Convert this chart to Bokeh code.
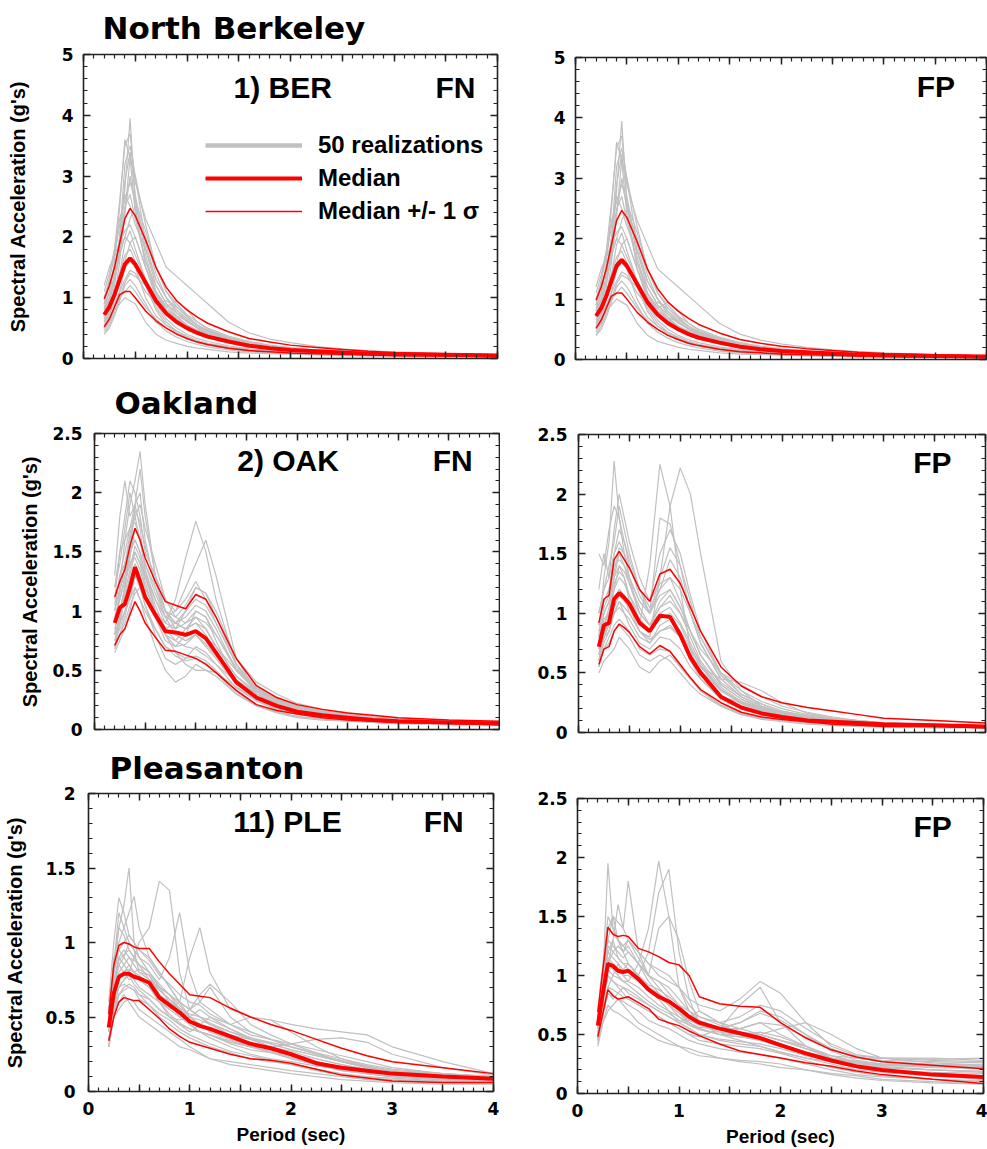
from bokeh.plotting import figure
from bokeh.models import Range1d, LinearAxis, SingleIntervalTicker, Label, Legend, LegendItem
from bokeh.layouts import column, row
from bokeh.embed import file_html
from bokeh.resources import INLINE

# ---------------- data ----------------
PERIOD = [0.2, 0.25, 0.3, 0.35, 0.4, 0.45, 0.5, 0.6, 0.7, 0.8, 0.9, 1.0,
          1.1, 1.2, 1.4, 1.6, 1.8, 2.0, 2.25, 2.5, 2.75, 3.0, 3.5, 4.0]

# 1) BER (North Berkeley) -- FN and FP panels are identical in the source
BER_MEDIAN = [0.72, 0.85, 1.05, 1.3, 1.55, 1.65, 1.55, 1.25, 0.95, 0.74, 0.6, 0.5,
              0.42, 0.36, 0.28, 0.21, 0.17, 0.14, 0.12, 0.1, 0.08, 0.07, 0.06, 0.05]
BER_PLUS = [0.98, 1.2, 1.5, 1.9, 2.3, 2.47, 2.35, 1.95, 1.5, 1.17, 0.95, 0.8,
            0.68, 0.58, 0.44, 0.33, 0.27, 0.22, 0.18, 0.15, 0.12, 0.1, 0.08, 0.06]
BER_MINUS = [0.52, 0.65, 0.85, 1.05, 1.1, 1.1, 1.0, 0.78, 0.62, 0.5, 0.4, 0.33,
             0.27, 0.23, 0.17, 0.13, 0.11, 0.09, 0.08, 0.07, 0.06, 0.05, 0.04, 0.03]
BER_REALIZATIONS = [
    [0.6, 0.8, 1.2, 1.8, 2.8, 3.95, 2.6, 1.7, 1.1, 0.8, 0.65, 0.5, 0.42, 0.35, 0.27, 0.2, 0.16, 0.13, 0.11, 0.09, 0.08, 0.07, 0.06, 0.05],
    [0.8, 1.1, 1.6, 2.5, 3.6, 3.3, 2.4, 1.6, 1.2, 0.9, 0.7, 0.55, 0.45, 0.38, 0.28, 0.22, 0.17, 0.14, 0.12, 0.1, 0.09, 0.07, 0.06, 0.05],
    [0.9, 1.3, 1.8, 2.6, 3.5, 3.7, 2.9, 2.3, 1.9, 1.5, 1.35, 1.2, 1.05, 0.9, 0.6, 0.42, 0.32, 0.26, 0.2, 0.16, 0.13, 0.11, 0.08, 0.06],
    [0.5, 0.7, 1.0, 1.6, 2.4, 3.0, 2.5, 1.5, 1.0, 0.75, 0.6, 0.48, 0.4, 0.34, 0.26, 0.2, 0.16, 0.13, 0.11, 0.09, 0.08, 0.07, 0.05, 0.04],
    [1.2, 1.5, 1.7, 1.9, 2.1, 2.2, 2.0, 1.5, 1.1, 0.85, 0.68, 0.55, 0.46, 0.39, 0.3, 0.23, 0.18, 0.15, 0.12, 0.1, 0.09, 0.07, 0.06, 0.05],
    [0.4, 0.5, 0.7, 0.95, 1.2, 1.3, 1.2, 0.9, 0.6, 0.45, 0.35, 0.28, 0.23, 0.19, 0.14, 0.11, 0.09, 0.08, 0.07, 0.06, 0.05, 0.04, 0.04, 0.03],
    [0.6, 0.75, 0.9, 1.1, 1.3, 1.45, 1.4, 1.1, 0.9, 0.95, 0.85, 0.7, 0.55, 0.45, 0.33, 0.25, 0.2, 0.16, 0.13, 0.11, 0.09, 0.08, 0.06, 0.05],
    [1.0, 1.3, 1.7, 2.2, 2.7, 2.5, 2.2, 1.8, 1.3, 1.0, 0.75, 0.6, 0.5, 0.42, 0.32, 0.25, 0.19, 0.15, 0.12, 0.1, 0.09, 0.08, 0.06, 0.05],
    [0.7, 0.9, 1.1, 1.4, 1.7, 1.8, 1.6, 1.2, 0.85, 0.6, 0.45, 0.35, 0.28, 0.23, 0.17, 0.13, 0.1, 0.09, 0.07, 0.06, 0.05, 0.05, 0.04, 0.03],
    [0.5, 0.6, 0.8, 0.9, 1.0, 0.95, 0.9, 0.6, 0.4, 0.3, 0.25, 0.2, 0.17, 0.15, 0.11, 0.09, 0.08, 0.07, 0.06, 0.05, 0.04, 0.04, 0.03, 0.03],
    [0.8, 1.0, 1.3, 1.7, 2.0, 2.3, 2.5, 2.0, 1.4, 1.0, 0.8, 0.65, 0.55, 0.46, 0.35, 0.27, 0.21, 0.17, 0.14, 0.11, 0.1, 0.08, 0.07, 0.05],
    [0.65, 0.9, 1.3, 2.0, 3.2, 3.5, 3.0, 1.9, 1.3, 1.0, 0.8, 0.62, 0.5, 0.42, 0.31, 0.24, 0.19, 0.15, 0.12, 0.1, 0.09, 0.07, 0.06, 0.05],
    [0.55, 0.75, 1.0, 1.4, 1.9, 2.1, 1.8, 1.3, 0.9, 0.65, 0.5, 0.4, 0.33, 0.28, 0.21, 0.16, 0.13, 0.11, 0.09, 0.08, 0.07, 0.06, 0.05, 0.04],
    [0.9, 1.2, 1.5, 2.0, 2.9, 3.4, 2.7, 1.8, 1.2, 0.9, 0.75, 0.62, 0.52, 0.44, 0.33, 0.25, 0.2, 0.16, 0.13, 0.11, 0.09, 0.08, 0.06, 0.05],
    [0.45, 0.6, 0.85, 1.1, 1.5, 1.6, 1.5, 1.0, 0.7, 0.55, 0.45, 0.37, 0.3, 0.25, 0.19, 0.15, 0.12, 0.1, 0.08, 0.07, 0.06, 0.05, 0.04, 0.04],
    [1.1, 1.4, 1.8, 2.3, 2.6, 2.9, 2.6, 2.1, 1.5, 1.1, 0.9, 0.72, 0.6, 0.5, 0.37, 0.28, 0.22, 0.18, 0.14, 0.12, 0.1, 0.08, 0.07, 0.05],
    [0.6, 0.8, 1.0, 1.3, 1.6, 1.9, 2.0, 1.5, 1.05, 0.8, 0.7, 0.62, 0.5, 0.4, 0.29, 0.22, 0.17, 0.14, 0.11, 0.09, 0.08, 0.07, 0.05, 0.04],
    [0.75, 1.0, 1.4, 1.9, 2.5, 2.7, 2.3, 1.6, 1.1, 0.85, 0.95, 0.8, 0.6, 0.48, 0.35, 0.26, 0.2, 0.16, 0.13, 0.1, 0.09, 0.07, 0.06, 0.05],
    [0.5, 0.65, 0.85, 1.0, 1.1, 1.2, 1.1, 0.85, 0.65, 0.5, 0.4, 0.32, 0.26, 0.22, 0.16, 0.12, 0.1, 0.08, 0.07, 0.06, 0.05, 0.04, 0.04, 0.03],
    [0.85, 1.1, 1.5, 1.8, 2.0, 1.9, 1.7, 1.3, 1.0, 0.8, 0.65, 0.55, 0.47, 0.4, 0.3, 0.23, 0.18, 0.15, 0.12, 0.1, 0.08, 0.07, 0.06, 0.05],
    [0.7, 0.95, 1.3, 1.7, 2.4, 3.3, 3.0, 2.2, 1.5, 1.1, 0.85, 0.68, 0.55, 0.45, 0.34, 0.26, 0.2, 0.16, 0.13, 0.11, 0.09, 0.08, 0.06, 0.05],
    [0.4, 0.55, 0.75, 1.0, 1.25, 1.4, 1.35, 1.2, 0.8, 0.55, 0.42, 0.34, 0.28, 0.24, 0.18, 0.14, 0.11, 0.09, 0.08, 0.07, 0.06, 0.05, 0.04, 0.03],
]

# 2) OAK (Oakland) FN
OAK_FN_MEDIAN = [0.9, 1.03, 1.06, 1.2, 1.37, 1.25, 1.12, 0.97, 0.83, 0.82, 0.8, 0.83,
                 0.77, 0.65, 0.4, 0.27, 0.2, 0.15, 0.12, 0.1, 0.08, 0.07, 0.06, 0.05]
OAK_FN_PLUS = [1.12, 1.25, 1.35, 1.55, 1.7, 1.6, 1.45, 1.25, 1.08, 1.05, 1.02, 1.14,
               1.1, 0.95, 0.6, 0.37, 0.27, 0.21, 0.17, 0.14, 0.12, 0.1, 0.08, 0.07]
OAK_FN_MINUS = [0.71, 0.8, 0.85, 0.97, 1.08, 1.0, 0.9, 0.78, 0.67, 0.66, 0.63, 0.6,
                0.55, 0.48, 0.33, 0.21, 0.16, 0.13, 0.1, 0.08, 0.07, 0.06, 0.05, 0.04]
OAK_FN_REALIZATIONS = [
    [0.8, 1.2, 1.6, 1.9, 2.1, 2.35, 1.9, 1.3, 1.0, 0.9, 0.85, 0.9, 0.8, 0.65, 0.4, 0.27, 0.19, 0.14, 0.11, 0.09, 0.08, 0.07, 0.06, 0.05],
    [1.3, 1.8, 2.1, 1.8, 1.9, 2.0, 1.6, 1.2, 0.95, 0.8, 0.75, 0.8, 0.7, 0.6, 0.38, 0.25, 0.18, 0.14, 0.11, 0.09, 0.08, 0.07, 0.06, 0.05],
    [0.7, 0.9, 1.1, 1.3, 1.5, 1.4, 1.3, 1.0, 0.9, 1.1, 1.45, 1.76, 1.5, 1.1, 0.55, 0.3, 0.2, 0.15, 0.12, 0.1, 0.08, 0.07, 0.06, 0.05],
    [0.9, 1.0, 1.2, 1.5, 1.6, 1.5, 1.3, 1.1, 0.95, 1.0, 1.2, 1.4, 1.6, 1.3, 0.6, 0.32, 0.22, 0.16, 0.13, 0.1, 0.08, 0.07, 0.06, 0.05],
    [0.65, 0.75, 0.85, 1.0, 1.2, 1.1, 0.95, 0.7, 0.5, 0.4, 0.45, 0.55, 0.5, 0.45, 0.3, 0.2, 0.14, 0.1, 0.08, 0.07, 0.06, 0.05, 0.05, 0.04],
    [1.0, 1.3, 1.4, 1.6, 1.8, 1.9, 1.7, 1.4, 1.1, 0.95, 0.9, 1.0, 0.95, 0.8, 0.5, 0.33, 0.24, 0.18, 0.14, 0.11, 0.09, 0.08, 0.06, 0.05],
    [0.75, 0.85, 1.0, 1.1, 1.2, 1.1, 1.0, 0.85, 0.7, 0.65, 0.6, 0.62, 0.58, 0.5, 0.32, 0.2, 0.15, 0.11, 0.09, 0.08, 0.06, 0.06, 0.05, 0.04],
    [1.2, 1.4, 1.7, 2.0, 1.8, 1.6, 1.4, 1.2, 1.0, 0.85, 1.0, 1.2, 1.15, 1.0, 0.6, 0.4, 0.3, 0.22, 0.17, 0.14, 0.11, 0.09, 0.07, 0.06],
    [0.9, 1.1, 1.3, 1.4, 1.5, 1.4, 1.2, 1.0, 0.85, 0.8, 0.75, 0.8, 0.72, 0.62, 0.42, 0.3, 0.23, 0.18, 0.15, 0.12, 0.1, 0.08, 0.06, 0.05],
    [0.7, 0.8, 0.9, 1.05, 1.15, 1.2, 1.05, 0.8, 0.6, 0.55, 0.6, 0.7, 0.65, 0.55, 0.35, 0.24, 0.17, 0.13, 0.1, 0.08, 0.07, 0.06, 0.05, 0.04],
    [1.1, 1.5, 1.8, 2.1, 2.0, 1.8, 1.5, 1.3, 1.1, 1.0, 1.1, 1.25, 1.1, 0.9, 0.55, 0.35, 0.26, 0.2, 0.15, 0.12, 0.1, 0.08, 0.07, 0.05],
    [0.8, 0.95, 1.1, 1.25, 1.4, 1.3, 1.15, 0.95, 0.8, 0.75, 0.85, 0.95, 0.85, 0.7, 0.45, 0.32, 0.26, 0.2, 0.16, 0.13, 0.1, 0.08, 0.07, 0.05],
    [0.85, 1.0, 1.2, 1.45, 1.7, 1.6, 1.4, 1.15, 0.95, 0.9, 0.95, 1.05, 1.0, 0.85, 0.5, 0.32, 0.24, 0.18, 0.14, 0.11, 0.09, 0.08, 0.06, 0.05],
    [1.0, 1.2, 1.3, 1.5, 1.6, 1.5, 1.3, 1.05, 0.85, 0.75, 0.7, 0.68, 0.62, 0.55, 0.4, 0.3, 0.22, 0.17, 0.13, 0.11, 0.09, 0.07, 0.06, 0.05],
    [0.7, 0.9, 1.2, 1.5, 1.9, 1.7, 1.35, 1.0, 0.8, 0.7, 0.8, 1.0, 0.95, 0.75, 0.4, 0.25, 0.18, 0.14, 0.11, 0.09, 0.08, 0.07, 0.05, 0.04],
    [1.2, 1.5, 1.6, 1.7, 1.9, 2.2, 1.8, 1.3, 1.0, 0.9, 0.85, 0.9, 0.85, 0.7, 0.45, 0.3, 0.22, 0.17, 0.13, 0.1, 0.09, 0.07, 0.06, 0.05],
    [0.8, 0.9, 1.0, 1.1, 1.3, 1.25, 1.1, 0.95, 0.85, 0.9, 1.0, 1.1, 1.05, 0.9, 0.55, 0.35, 0.25, 0.19, 0.15, 0.12, 0.1, 0.08, 0.06, 0.05],
    [0.95, 1.1, 1.25, 1.4, 1.45, 1.35, 1.2, 1.0, 0.8, 0.65, 0.55, 0.5, 0.5, 0.48, 0.36, 0.25, 0.19, 0.15, 0.12, 0.1, 0.08, 0.07, 0.06, 0.05],
    [0.75, 0.95, 1.15, 1.35, 1.55, 1.45, 1.25, 0.95, 0.75, 0.7, 0.72, 0.8, 0.78, 0.7, 0.5, 0.36, 0.27, 0.2, 0.15, 0.12, 0.1, 0.08, 0.06, 0.05],
    [1.05, 1.3, 1.5, 1.7, 1.75, 1.6, 1.35, 1.1, 0.9, 0.85, 0.9, 0.95, 0.9, 0.8, 0.52, 0.34, 0.25, 0.19, 0.15, 0.12, 0.1, 0.08, 0.07, 0.05],
    [0.68, 0.8, 0.95, 1.15, 1.3, 1.2, 1.05, 0.85, 0.7, 0.62, 0.58, 0.6, 0.56, 0.48, 0.3, 0.2, 0.15, 0.11, 0.09, 0.07, 0.06, 0.05, 0.04, 0.04],
    [0.9, 1.15, 1.4, 1.65, 1.85, 1.75, 1.55, 1.25, 1.0, 0.95, 1.05, 1.2, 1.15, 0.95, 0.55, 0.35, 0.26, 0.2, 0.15, 0.12, 0.1, 0.08, 0.06, 0.05],
]

# 2) OAK (Oakland) FP
OAK_FP_MEDIAN = [0.72, 0.9, 0.92, 1.12, 1.17, 1.13, 1.08, 0.92, 0.85, 0.98, 0.97, 0.82,
                 0.63, 0.5, 0.3, 0.21, 0.16, 0.13, 0.1, 0.09, 0.08, 0.07, 0.06, 0.05]
OAK_FP_PLUS = [0.92, 1.12, 1.15, 1.45, 1.52, 1.45, 1.38, 1.2, 1.1, 1.33, 1.37, 1.25,
               1.05, 0.85, 0.55, 0.39, 0.3, 0.25, 0.21, 0.18, 0.15, 0.12, 0.1, 0.08]
OAK_FP_MINUS = [0.57, 0.7, 0.72, 0.85, 0.91, 0.88, 0.84, 0.72, 0.66, 0.73, 0.68, 0.57,
                0.46, 0.36, 0.25, 0.17, 0.13, 0.11, 0.09, 0.07, 0.06, 0.05, 0.05, 0.04]
OAK_FP_REALIZATIONS = [
    [0.8, 1.3, 1.6, 2.28, 1.8, 1.5, 1.3, 1.0, 0.9, 1.0, 0.95, 0.8, 0.6, 0.45, 0.28, 0.2, 0.15, 0.12, 0.1, 0.08, 0.07, 0.06, 0.05, 0.05],
    [0.6, 0.8, 1.0, 1.2, 1.4, 1.3, 1.1, 0.9, 1.4, 2.25, 1.9, 1.2, 0.7, 0.45, 0.28, 0.2, 0.15, 0.12, 0.1, 0.08, 0.07, 0.06, 0.05, 0.04],
    [0.7, 0.9, 1.0, 1.1, 1.2, 1.15, 1.0, 0.85, 0.8, 1.3, 1.9, 2.22, 2.0, 1.5, 0.6, 0.35, 0.22, 0.16, 0.12, 0.1, 0.08, 0.07, 0.06, 0.05],
    [1.5, 1.4, 1.7, 1.9, 1.8, 1.6, 1.4, 1.2, 1.0, 1.2, 1.3, 1.1, 0.85, 0.65, 0.4, 0.28, 0.2, 0.16, 0.13, 0.1, 0.09, 0.08, 0.06, 0.05],
    [0.5, 0.6, 0.65, 0.7, 0.8, 0.75, 0.7, 0.55, 0.5, 0.6, 0.65, 0.55, 0.45, 0.35, 0.22, 0.15, 0.11, 0.09, 0.07, 0.06, 0.05, 0.05, 0.04, 0.04],
    [0.9, 1.1, 1.2, 1.5, 1.6, 1.5, 1.3, 1.1, 1.0, 1.8, 1.75, 1.4, 1.0, 0.75, 0.45, 0.3, 0.22, 0.17, 0.13, 0.11, 0.09, 0.08, 0.06, 0.05],
    [0.65, 0.8, 0.85, 1.0, 1.1, 1.0, 0.95, 0.8, 0.75, 0.85, 0.9, 0.8, 0.65, 0.55, 0.45, 0.42, 0.35, 0.25, 0.16, 0.12, 0.1, 0.08, 0.06, 0.05],
    [1.0, 1.2, 1.4, 1.6, 1.9, 1.7, 1.5, 1.2, 1.1, 1.25, 1.3, 1.2, 1.0, 0.8, 0.5, 0.32, 0.24, 0.18, 0.14, 0.11, 0.09, 0.08, 0.06, 0.05],
    [0.55, 0.7, 0.8, 0.9, 0.95, 0.9, 0.85, 0.7, 0.65, 0.7, 0.68, 0.55, 0.45, 0.35, 0.23, 0.16, 0.12, 0.1, 0.08, 0.07, 0.06, 0.05, 0.04, 0.04],
    [0.8, 1.0, 1.1, 1.3, 1.5, 1.4, 1.25, 1.0, 0.9, 1.1, 1.2, 1.05, 0.85, 0.65, 0.4, 0.28, 0.21, 0.16, 0.12, 0.1, 0.08, 0.07, 0.06, 0.05],
    [1.2, 1.5, 1.3, 1.7, 2.0, 1.8, 1.6, 1.3, 1.1, 1.5, 1.7, 1.5, 1.15, 0.85, 0.5, 0.35, 0.26, 0.2, 0.15, 0.12, 0.1, 0.08, 0.07, 0.05],
    [0.6, 0.75, 0.85, 1.0, 1.05, 1.0, 0.9, 0.75, 0.7, 0.8, 0.78, 0.7, 0.55, 0.45, 0.3, 0.25, 0.2, 0.15, 0.11, 0.09, 0.07, 0.06, 0.05, 0.04],
    [0.75, 1.0, 1.1, 1.3, 1.4, 1.35, 1.25, 1.05, 0.9, 1.05, 1.15, 1.0, 0.8, 0.6, 0.38, 0.26, 0.19, 0.15, 0.12, 0.1, 0.08, 0.07, 0.06, 0.05],
    [0.6, 0.8, 0.9, 1.05, 1.15, 1.1, 1.05, 0.85, 0.75, 0.9, 0.95, 0.85, 0.7, 0.55, 0.35, 0.24, 0.18, 0.14, 0.11, 0.09, 0.08, 0.07, 0.05, 0.04],
    [0.85, 1.05, 1.15, 1.35, 1.55, 1.5, 1.4, 1.15, 1.0, 1.15, 1.2, 1.05, 0.85, 0.65, 0.42, 0.3, 0.22, 0.17, 0.13, 0.11, 0.09, 0.07, 0.06, 0.05],
    [0.7, 0.85, 0.95, 1.1, 1.2, 1.15, 1.1, 0.95, 0.85, 0.95, 1.0, 0.9, 0.72, 0.56, 0.36, 0.25, 0.19, 0.15, 0.12, 0.1, 0.08, 0.07, 0.05, 0.04],
    [1.0, 1.2, 1.3, 1.5, 1.7, 1.6, 1.45, 1.2, 1.05, 1.2, 1.45, 1.3, 1.0, 0.75, 0.45, 0.3, 0.22, 0.17, 0.13, 0.11, 0.09, 0.08, 0.06, 0.05],
    [0.55, 0.7, 0.75, 0.85, 0.9, 0.85, 0.8, 0.65, 0.6, 0.65, 0.6, 0.5, 0.4, 0.32, 0.22, 0.15, 0.12, 0.1, 0.08, 0.07, 0.06, 0.05, 0.04, 0.04],
    [0.8, 0.95, 1.0, 1.2, 1.3, 1.25, 1.15, 1.0, 0.9, 1.05, 1.1, 1.0, 0.85, 0.7, 0.5, 0.4, 0.3, 0.22, 0.17, 0.13, 0.1, 0.08, 0.06, 0.05],
    [0.65, 0.9, 1.05, 1.25, 1.35, 1.3, 1.15, 0.95, 0.85, 1.0, 1.05, 0.92, 0.75, 0.58, 0.36, 0.25, 0.18, 0.14, 0.11, 0.09, 0.08, 0.06, 0.05, 0.04],
    [0.9, 1.1, 1.2, 1.4, 1.45, 1.4, 1.3, 1.1, 1.0, 1.3, 1.55, 1.4, 1.1, 0.8, 0.48, 0.32, 0.24, 0.18, 0.14, 0.11, 0.09, 0.08, 0.06, 0.05],
    [0.7, 0.85, 0.9, 1.0, 1.1, 1.05, 1.0, 0.85, 0.78, 0.85, 0.88, 0.8, 0.65, 0.52, 0.35, 0.26, 0.2, 0.16, 0.12, 0.1, 0.08, 0.07, 0.05, 0.04],
]

# 11) PLE (Pleasanton) FN
PLE_FN_MEDIAN = [0.43, 0.66, 0.77, 0.79, 0.79, 0.77, 0.76, 0.73, 0.63, 0.58, 0.53, 0.47,
                 0.44, 0.42, 0.37, 0.32, 0.29, 0.25, 0.19, 0.16, 0.14, 0.12, 0.1, 0.085]
PLE_FN_PLUS = [0.52, 0.85, 0.98, 1.0, 0.99, 0.97, 0.96, 0.96, 0.87, 0.79, 0.72, 0.65,
               0.64, 0.63, 0.56, 0.5, 0.45, 0.41, 0.35, 0.29, 0.24, 0.2, 0.16, 0.12]
PLE_FN_MINUS = [0.34, 0.5, 0.6, 0.63, 0.62, 0.61, 0.61, 0.55, 0.49, 0.42, 0.37, 0.33,
                0.31, 0.29, 0.25, 0.22, 0.21, 0.19, 0.15, 0.11, 0.09, 0.07, 0.06, 0.06]
PLE_FN_REALIZATIONS = [
    [0.3, 0.8, 1.1, 1.25, 1.5, 1.0, 0.9, 0.8, 0.7, 0.6, 0.5, 0.45, 0.4, 0.38, 0.33, 0.3, 0.27, 0.22, 0.18, 0.14, 0.12, 0.1, 0.08, 0.07],
    [0.45, 0.7, 0.9, 0.85, 0.8, 0.9, 1.0, 1.1, 1.41, 1.35, 0.8, 0.55, 0.5, 0.45, 0.38, 0.32, 0.28, 0.25, 0.2, 0.16, 0.13, 0.11, 0.09, 0.08],
    [0.5, 0.85, 1.2, 1.1, 1.0, 0.95, 0.9, 0.85, 0.75, 0.9, 1.2, 0.8, 0.6, 0.55, 0.45, 0.38, 0.35, 0.32, 0.28, 0.24, 0.2, 0.16, 0.12, 0.1],
    [0.4, 0.6, 0.7, 0.75, 0.8, 0.75, 0.7, 0.65, 0.6, 0.55, 0.6, 0.9, 1.1, 0.8, 0.55, 0.5, 0.48, 0.45, 0.42, 0.4, 0.38, 0.3, 0.2, 0.12],
    [0.35, 0.55, 0.6, 0.65, 0.6, 0.55, 0.5, 0.45, 0.4, 0.35, 0.3, 0.28, 0.25, 0.22, 0.2, 0.18, 0.16, 0.14, 0.12, 0.1, 0.08, 0.07, 0.06, 0.05],
    [0.6, 1.0, 1.3, 1.2, 1.05, 1.0, 0.95, 0.9, 0.8, 0.7, 0.6, 0.55, 0.6, 0.7, 0.5, 0.4, 0.35, 0.3, 0.25, 0.2, 0.16, 0.13, 0.1, 0.08],
    [0.4, 0.65, 0.75, 0.8, 0.85, 0.8, 0.75, 0.7, 0.6, 0.5, 0.45, 0.4, 0.45, 0.5, 0.42, 0.35, 0.3, 0.27, 0.22, 0.18, 0.15, 0.12, 0.1, 0.09],
    [0.45, 0.7, 0.85, 0.9, 1.0, 0.95, 0.8, 0.75, 0.7, 0.65, 0.55, 0.5, 0.45, 0.4, 0.35, 0.3, 0.3, 0.32, 0.35, 0.36, 0.33, 0.25, 0.16, 0.11],
    [0.3, 0.5, 0.55, 0.6, 0.62, 0.6, 0.55, 0.5, 0.45, 0.4, 0.35, 0.3, 0.26, 0.22, 0.18, 0.16, 0.14, 0.12, 0.1, 0.08, 0.07, 0.06, 0.05, 0.05],
    [0.5, 0.9, 1.0, 1.1, 1.2, 1.31, 1.1, 0.9, 0.8, 0.7, 0.6, 0.5, 0.45, 0.42, 0.38, 0.35, 0.32, 0.28, 0.24, 0.2, 0.16, 0.13, 0.11, 0.09],
    [0.4, 0.6, 0.7, 0.72, 0.7, 0.68, 0.65, 0.62, 0.55, 0.5, 0.48, 0.5, 0.55, 0.5, 0.45, 0.5, 0.48, 0.4, 0.3, 0.22, 0.17, 0.13, 0.1, 0.08],
    [0.55, 0.8, 0.95, 0.9, 0.85, 0.8, 0.82, 0.78, 0.68, 0.62, 0.55, 0.45, 0.4, 0.36, 0.3, 0.25, 0.22, 0.2, 0.17, 0.15, 0.13, 0.12, 0.1, 0.09],
    [0.4, 0.65, 0.8, 0.85, 0.9, 0.85, 0.8, 0.78, 0.65, 0.6, 0.55, 0.5, 0.48, 0.45, 0.4, 0.35, 0.3, 0.26, 0.2, 0.16, 0.13, 0.11, 0.09, 0.08],
    [0.5, 0.75, 0.9, 0.95, 0.9, 0.88, 0.85, 0.8, 0.7, 0.65, 0.58, 0.5, 0.45, 0.42, 0.36, 0.3, 0.27, 0.23, 0.18, 0.14, 0.12, 0.1, 0.08, 0.07],
    [0.35, 0.55, 0.7, 0.75, 0.78, 0.72, 0.68, 0.62, 0.55, 0.5, 0.45, 0.42, 0.4, 0.38, 0.34, 0.3, 0.26, 0.22, 0.18, 0.15, 0.12, 0.1, 0.08, 0.07],
    [0.45, 0.7, 0.85, 0.8, 0.75, 0.78, 0.75, 0.7, 0.62, 0.55, 0.5, 0.55, 0.65, 0.72, 0.6, 0.45, 0.38, 0.32, 0.26, 0.2, 0.16, 0.13, 0.1, 0.08],
    [0.3, 0.5, 0.65, 0.7, 0.72, 0.7, 0.65, 0.58, 0.5, 0.45, 0.4, 0.36, 0.33, 0.3, 0.26, 0.22, 0.2, 0.18, 0.15, 0.12, 0.1, 0.09, 0.07, 0.06],
    [0.55, 0.85, 1.1, 1.05, 0.95, 0.9, 0.85, 0.8, 0.72, 0.65, 0.6, 0.55, 0.5, 0.46, 0.4, 0.36, 0.33, 0.3, 0.26, 0.22, 0.18, 0.15, 0.12, 0.1],
    [0.4, 0.6, 0.75, 0.8, 0.82, 0.8, 0.78, 0.72, 0.6, 0.52, 0.46, 0.42, 0.4, 0.38, 0.32, 0.28, 0.26, 0.25, 0.22, 0.18, 0.14, 0.11, 0.09, 0.08],
    [0.5, 0.8, 0.95, 1.0, 1.05, 1.0, 0.95, 0.88, 0.78, 0.72, 0.65, 0.6, 0.58, 0.52, 0.45, 0.4, 0.35, 0.3, 0.25, 0.21, 0.17, 0.14, 0.11, 0.09],
    [0.35, 0.55, 0.65, 0.68, 0.7, 0.68, 0.62, 0.58, 0.52, 0.48, 0.42, 0.38, 0.35, 0.32, 0.27, 0.24, 0.21, 0.18, 0.14, 0.11, 0.09, 0.08, 0.07, 0.06],
    [0.45, 0.7, 0.88, 0.92, 0.95, 0.9, 0.85, 0.75, 0.68, 0.62, 0.56, 0.52, 0.5, 0.48, 0.42, 0.36, 0.32, 0.28, 0.24, 0.2, 0.17, 0.14, 0.12, 0.1],
]

# 11) PLE (Pleasanton) FP
PLE_FP_MEDIAN = [0.575, 0.85, 1.1, 1.08, 1.04, 1.03, 1.04, 0.97, 0.88, 0.82, 0.78, 0.72,
                 0.65, 0.6, 0.55, 0.51, 0.47, 0.41, 0.34, 0.28, 0.23, 0.2, 0.16, 0.14]
PLE_FP_PLUS = [0.69, 1.05, 1.41, 1.35, 1.33, 1.34, 1.33, 1.23, 1.2, 1.16, 1.11, 1.09,
               1.0, 0.82, 0.76, 0.74, 0.73, 0.6, 0.47, 0.37, 0.31, 0.27, 0.24, 0.21]
PLE_FP_MINUS = [0.48, 0.68, 0.88, 0.83, 0.8, 0.81, 0.82, 0.77, 0.72, 0.63, 0.6, 0.575,
                0.53, 0.49, 0.42, 0.36, 0.33, 0.3, 0.26, 0.23, 0.19, 0.16, 0.12, 0.085]
PLE_FP_REALIZATIONS = [
    [0.6, 1.0, 1.95, 1.4, 1.3, 1.2, 1.1, 1.0, 0.9, 0.8, 0.7, 0.6, 0.55, 0.5, 0.45, 0.42, 0.4, 0.35, 0.3, 0.27, 0.25, 0.24, 0.23, 0.22],
    [0.5, 0.8, 1.1, 1.3, 1.6, 1.4, 1.8, 1.2, 1.0, 0.9, 0.8, 0.7, 0.6, 0.55, 0.5, 0.55, 0.6, 0.5, 0.4, 0.3, 0.25, 0.22, 0.2, 0.18],
    [0.45, 0.7, 0.9, 1.0, 1.1, 1.0, 0.95, 1.1, 1.4, 1.97, 1.5, 0.9, 0.7, 0.6, 0.5, 0.45, 0.4, 0.35, 0.3, 0.25, 0.2, 0.18, 0.15, 0.12],
    [0.55, 0.9, 1.3, 1.5, 1.45, 1.4, 1.3, 1.2, 1.1, 1.0, 0.95, 0.9, 0.8, 0.75, 0.7, 0.8, 0.95, 0.85, 0.6, 0.4, 0.32, 0.3, 0.3, 0.28],
    [0.42, 0.6, 0.75, 0.7, 0.68, 0.65, 0.62, 0.55, 0.5, 0.45, 0.42, 0.4, 0.38, 0.35, 0.3, 0.27, 0.25, 0.22, 0.2, 0.17, 0.15, 0.12, 0.1, 0.08],
    [0.65, 1.0, 1.2, 1.3, 1.15, 1.1, 1.1, 1.0, 1.2, 1.7, 1.9, 1.2, 0.8, 0.6, 0.55, 0.6, 0.7, 0.65, 0.5, 0.38, 0.3, 0.28, 0.27, 0.26],
    [0.5, 0.8, 1.0, 0.95, 0.9, 0.85, 0.8, 0.75, 0.7, 0.65, 0.6, 0.55, 0.5, 0.48, 0.55, 0.75, 0.9, 0.6, 0.4, 0.3, 0.22, 0.18, 0.15, 0.13],
    [0.6, 0.95, 1.4, 1.5, 1.3, 1.2, 1.25, 1.1, 0.95, 0.85, 0.75, 0.65, 0.6, 0.55, 0.5, 0.48, 0.5, 0.55, 0.6, 0.5, 0.38, 0.3, 0.26, 0.24],
    [0.4, 0.6, 0.7, 0.75, 0.8, 0.75, 0.7, 0.6, 0.55, 0.5, 0.45, 0.4, 0.35, 0.32, 0.3, 0.28, 0.27, 0.25, 0.2, 0.16, 0.13, 0.11, 0.09, 0.08],
    [0.55, 0.85, 1.1, 1.2, 1.25, 1.2, 1.3, 1.15, 1.0, 1.4, 1.5, 1.3, 0.95, 0.7, 0.6, 0.55, 0.5, 0.45, 0.4, 0.32, 0.27, 0.25, 0.24, 0.23],
    [0.45, 0.7, 0.85, 0.8, 0.85, 0.9, 0.85, 0.8, 0.75, 0.7, 0.65, 0.6, 0.65, 0.7, 0.6, 0.5, 0.45, 0.4, 0.33, 0.27, 0.22, 0.2, 0.18, 0.17],
    [0.7, 1.1, 1.5, 1.4, 1.3, 1.25, 1.2, 1.1, 1.0, 0.95, 0.85, 0.75, 0.7, 0.65, 0.58, 0.52, 0.5, 0.45, 0.38, 0.32, 0.3, 0.3, 0.29, 0.3],
    [0.55, 0.85, 1.2, 1.15, 1.1, 1.05, 1.1, 1.0, 0.9, 0.85, 0.78, 0.7, 0.62, 0.58, 0.52, 0.5, 0.48, 0.42, 0.35, 0.3, 0.27, 0.25, 0.24, 0.23],
    [0.5, 0.75, 1.0, 0.95, 0.92, 0.9, 0.88, 0.82, 0.75, 0.7, 0.65, 0.6, 0.55, 0.5, 0.46, 0.44, 0.42, 0.38, 0.32, 0.27, 0.22, 0.19, 0.17, 0.15],
    [0.6, 0.9, 1.3, 1.25, 1.2, 1.15, 1.2, 1.1, 1.0, 0.95, 0.9, 0.8, 0.7, 0.62, 0.55, 0.55, 0.6, 0.58, 0.48, 0.38, 0.3, 0.27, 0.25, 0.24],
    [0.45, 0.7, 0.9, 0.88, 0.85, 0.82, 0.8, 0.75, 0.7, 0.65, 0.6, 0.55, 0.5, 0.45, 0.42, 0.4, 0.38, 0.34, 0.28, 0.22, 0.18, 0.15, 0.12, 0.1],
    [0.65, 1.0, 1.4, 1.35, 1.3, 1.25, 1.3, 1.2, 1.1, 1.05, 1.0, 0.9, 0.75, 0.65, 0.6, 0.65, 0.75, 0.7, 0.55, 0.42, 0.33, 0.3, 0.28, 0.27],
    [0.5, 0.8, 1.1, 1.05, 1.0, 0.95, 0.95, 0.9, 0.82, 0.75, 0.7, 0.65, 0.58, 0.55, 0.5, 0.48, 0.45, 0.4, 0.34, 0.28, 0.24, 0.22, 0.2, 0.19],
    [0.55, 0.85, 1.15, 1.1, 1.05, 1.0, 1.0, 0.95, 0.88, 0.82, 0.75, 0.68, 0.6, 0.56, 0.55, 0.6, 0.68, 0.62, 0.5, 0.36, 0.28, 0.25, 0.23, 0.22],
    [0.45, 0.65, 0.85, 0.82, 0.8, 0.78, 0.75, 0.7, 0.62, 0.58, 0.55, 0.5, 0.45, 0.42, 0.38, 0.35, 0.33, 0.3, 0.25, 0.2, 0.16, 0.14, 0.12, 0.11],
    [0.6, 0.95, 1.25, 1.2, 1.15, 1.1, 1.05, 1.0, 0.92, 0.88, 0.82, 0.75, 0.66, 0.6, 0.55, 0.52, 0.5, 0.45, 0.38, 0.3, 0.26, 0.24, 0.22, 0.21],
    [0.5, 0.8, 1.05, 1.0, 0.98, 0.95, 0.92, 0.85, 0.78, 0.72, 0.68, 0.62, 0.58, 0.54, 0.5, 0.5, 0.52, 0.48, 0.4, 0.32, 0.26, 0.23, 0.2, 0.18],
]

REGION_TITLES = ["North Berkeley", "Oakland", "Pleasanton"]
LEGEND_LABELS = ["50 realizations", "Median", "Median +/- 1 \u03c3"]
X_TICK_LABELS = {0: "0", 1: "1", 2: "2", 3: "3", 4: "4", 0.5: "", 1.5: "", 2.5: "", 3.5: ""}
X_AXIS_TITLE = "Period (sec)"
Y_AXIS_TITLE = "Spectral Acceleration (g's)"

GRAY = "#c0c0c0"
RED = "#ff0000"
FONT = "Liberation Sans"
TICK_FONT = "DejaVu Sans"


def ytick_labels(ymax, step):
    out = {}
    v = 0.0
    while v <= ymax + 1e-9:
        out[round(v, 2)] = f"{v:g}"
        v += step
    return out


def make_axis(interval, label_px, standoff, overrides=None):
    ax = LinearAxis(ticker=SingleIntervalTicker(interval=interval, num_minor_ticks=5),
                    major_tick_in=7, major_tick_out=0, minor_tick_in=4, minor_tick_out=0,
                    axis_line_width=1.6, axis_line_color="#222222",
                    major_tick_line_width=1.5, major_tick_line_color="#222222",
                    minor_tick_line_width=1.2, minor_tick_line_color="#222222",
                    major_label_text_font=TICK_FONT, major_label_text_font_style="bold",
                    major_label_text_font_size=f"{label_px}px", major_label_text_color="black",
                    major_label_standoff=standoff)
    if overrides:
        ax.major_label_overrides = overrides
    return ax


def title_strip(width, height, text, offset):
    """A bare figure whose only content is its left-aligned title (the region name).
    Its frame is aligned with the panel below it, so offset counts from that frame's left edge."""
    s = figure(width=width, height=height, output_backend="svg", toolbar_location=None,
               title=text, title_location="below", x_range=Range1d(0, 1), y_range=Range1d(0, 1),
               x_axis_type=None, y_axis_type=None,
               min_border_left=0, min_border_right=0, min_border_top=0, min_border_bottom=0)
    s.outline_line_color = None
    s.background_fill_color = "white"
    s.border_fill_color = "white"
    s.title.text_font = TICK_FONT
    s.title.text_font_style = "bold"
    s.title.text_font_size = "31px"
    s.title.text_color = "black"
    s.title.align = "left"
    s.title.offset = offset
    s.title.standoff = 0
    s.title.vertical_align = "bottom"
    return s


def make_panel(width, height, borders, ymax, ystep, realizations, median, plus, minus,
               tag_texts, ylabel=False, ylabel_standoff=10, ytick_standoff=10,
               xlabel=False, legend=False):
    left, right, top, bottom = borders
    p = figure(width=width, height=height, output_backend="svg", toolbar_location=None,
               x_range=Range1d(0, 4), y_range=Range1d(0, ymax),
               x_axis_type=None, y_axis_type=None,
               min_border_left=left, min_border_right=right,
               min_border_top=top, min_border_bottom=bottom)
    p.outline_line_color = None
    p.background_fill_color = "white"
    p.border_fill_color = "white"

    # axes on all four sides, ticks pointing inward
    ly = make_axis(ystep, 17, ytick_standoff, ytick_labels(ymax, ystep))
    if ylabel:
        ly.axis_label = Y_AXIS_TITLE
        ly.axis_label_text_font = FONT
        ly.axis_label_text_font_style = "bold"
        ly.axis_label_text_font_size = "20px"
        ly.axis_label_text_color = "black"
        ly.axis_label_standoff = ylabel_standoff
    p.add_layout(ly, "left")
    p.add_layout(make_axis(ystep, 0, 0), "right")
    if xlabel:
        bx = make_axis(0.5, 17, 10, X_TICK_LABELS)
        bx.axis_label = X_AXIS_TITLE
        bx.axis_label_text_font = FONT
        bx.axis_label_text_font_style = "bold"
        bx.axis_label_text_font_size = "19px"
        bx.axis_label_text_color = "black"
        bx.axis_label_standoff = 6
    else:
        bx = make_axis(0.5, 0, 0)
    p.add_layout(bx, "below")
    p.add_layout(make_axis(0.5, 0, 0), "above")

    xs = [PERIOD] * len(realizations)
    p.multi_line(xs=xs, ys=realizations, line_color=GRAY, line_width=1.2)
    p.line(PERIOD, minus, line_color=RED, line_width=1.5)
    r_plus = p.line(PERIOD, plus, line_color=RED, line_width=1.5)
    r_med = p.line(PERIOD, median, line_color=RED, line_width=4)

    for (tx, ty, txt) in tag_texts:
        p.add_layout(Label(x=tx, y=ty, text=txt, text_font=FONT, text_font_style="bold",
                           text_font_size="30px", text_color="black"))

    if legend:
        # one-point line: draws nothing in the plot, only supplies the legend key style
        r_gray_key = p.line(x=PERIOD[:1], y=realizations[0][:1], line_color=GRAY, line_width=4.5)
        leg = Legend(items=[LegendItem(label=LEGEND_LABELS[0], renderers=[r_gray_key]),
                            LegendItem(label=LEGEND_LABELS[1], renderers=[r_med]),
                            LegendItem(label=LEGEND_LABELS[2], renderers=[r_plus])],
                     location=(122, 133), padding=0, margin=0, spacing=5,
                     glyph_width=97, glyph_height=26, label_height=26, label_standoff=16,
                     label_text_font=FONT, label_text_font_style="bold",
                     label_text_font_size="24px", label_text_color="black",
                     background_fill_alpha=0, border_line_alpha=0)
        p.add_layout(leg)
    return p


# ---- row 1: North Berkeley (y 0-375) ----
tA = title_strip(500, 45, REGION_TITLES[0], 19)
pA = make_panel(500, 330, (83, 3, 9, 17), 5, 1, BER_REALIZATIONS, BER_MEDIAN, BER_PLUS, BER_MINUS,
                [(1.45, 4.19, "1) BER"), (3.4, 4.19, "FN")], ylabel=True, ylabel_standoff=30,
                legend=True)
pB = make_panel(487, 375, (75, 1, 57, 16), 5, 1, BER_REALIZATIONS, BER_MEDIAN, BER_PLUS, BER_MINUS,
                [(3.32, 4.25, "FP")])

# ---- row 2: Oakland (y 375-742) ----
tC = title_strip(500, 45, REGION_TITLES[1], 20)
pC = make_panel(500, 322, (94, 1, 13, 13), 2.5, 0.5, OAK_FN_REALIZATIONS, OAK_FN_MEDIAN, OAK_FN_PLUS,
                OAK_FN_MINUS, [(1.41, 2.13, "2) OAK"), (3.34, 2.13, "FN")],
                ylabel=True, ylabel_standoff=8, ytick_standoff=12)
pD = make_panel(487, 367, (78, 2, 59, 10), 2.5, 0.5, OAK_FP_REALIZATIONS, OAK_FP_MEDIAN, OAK_FP_PLUS,
                OAK_FP_MINUS, [(3.29, 2.13, "FP")], ytick_standoff=11)

# ---- row 3: Pleasanton (y 742-1149) ----
tE = title_strip(500, 43, REGION_TITLES[2], 21)
pE = make_panel(500, 364, (88, 7, 8, 58), 2, 0.5, PLE_FN_REALIZATIONS, PLE_FN_MEDIAN, PLE_FN_PLUS,
                PLE_FN_MINUS, [(1.43, 1.70, "11) PLE"), (3.31, 1.70, "FN")],
                ylabel=True, ylabel_standoff=16, ytick_standoff=13, xlabel=True)
pF = make_panel(487, 407, (77, 4, 56, 54), 2.5, 0.5, PLE_FP_REALIZATIONS, PLE_FP_MEDIAN, PLE_FP_PLUS,
                PLE_FP_MINUS, [(3.31, 2.12, "FP")], xlabel=True)

layout = column(
    row(column(tA, pA, spacing=0), pB, spacing=0),
    row(column(tC, pC, spacing=0), pD, spacing=0),
    row(column(tE, pE, spacing=0), pF, spacing=0),
    spacing=0,
)

open("out.html", "w").write(file_html(layout, INLINE))
